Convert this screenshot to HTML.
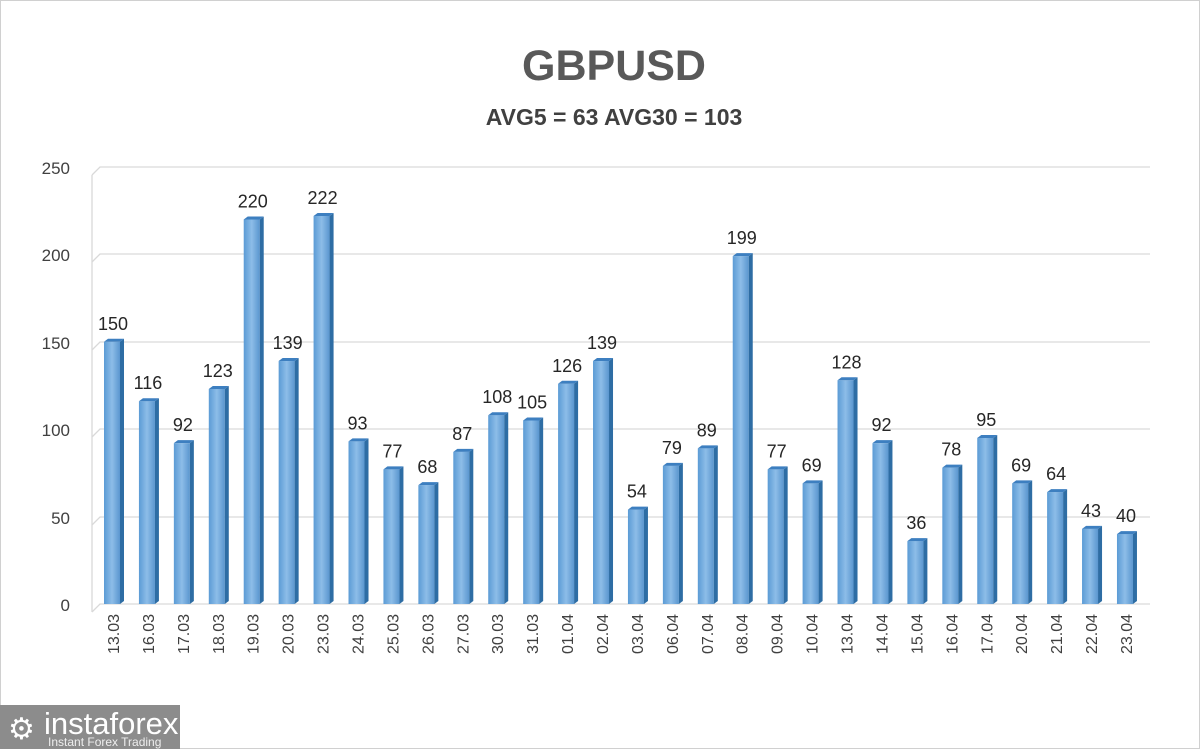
<!DOCTYPE html>
<html><head><meta charset="utf-8"><style>
html,body{margin:0;padding:0;background:#fff}
body{width:1200px;height:749px;overflow:hidden;font-family:"Liberation Sans",sans-serif}
</style></head><body>
<svg width="1200" height="749" xmlns="http://www.w3.org/2000/svg" font-family="Liberation Sans, sans-serif">
<defs>
<linearGradient id="g" x1="0" x2="1" y1="0" y2="0">
<stop offset="0" stop-color="#5b9bd5"/><stop offset="0.5" stop-color="#8dbde8"/><stop offset="1" stop-color="#5a96cf"/>
</linearGradient>
</defs>
<rect x="0.5" y="0.5" width="1199" height="748" fill="#fff" stroke="#d0d0d0"/>
<text x="614" y="80" text-anchor="middle" font-size="43" font-weight="bold" fill="#595959">GBPUSD</text>
<text x="614" y="125" text-anchor="middle" font-size="23" font-weight="bold" fill="#404040">AVG5 = 63 AVG30 = 103</text>
<g stroke="#d9d9d9" stroke-width="1.3" fill="none">
<path d="M92 612 L100 604 H1150"/>
<path d="M92 525 L100 517 H1150"/>
<path d="M92 437 L100 429 H1150"/>
<path d="M92 350 L100 342 H1150"/>
<path d="M92 262 L100 254 H1150"/>
<path d="M92 175 L100 167 H1150"/>
<path d="M92 175 V612"/>
</g>
<g font-size="17" fill="#404040" text-anchor="end">
<text x="70" y="611">0</text><text x="70" y="524">50</text><text x="70" y="436">100</text><text x="70" y="349">150</text><text x="70" y="261">200</text><text x="70" y="174">250</text>
</g>
<g id="bars"></g>
<rect x="0" y="705" width="180" height="44" fill="#8c8c8c"/>
<text x="8" y="739" font-size="30" fill="#fff">⚙</text>
<text x="44" y="734" font-size="31" fill="#fff">instaforex</text>
<text x="48" y="746" font-size="12" fill="#eee">Instant Forex Trading</text>
</svg>
<script>
var v=[150,116,92,123,220,139,222,93,77,68,87,108,105,126,139,54,79,89,199,77,69,128,92,36,78,95,69,64,43,40];
var d=["13.03","16.03","17.03","18.03","19.03","20.03","23.03","24.03","25.03","26.03","27.03","30.03","31.03","01.04","02.04","03.04","06.04","07.04","08.04","09.04","10.04","13.04","14.04","15.04","16.04","17.04","20.04","21.04","22.04","23.04"];
var s="";
for(var i=0;i<30;i++){
var x=104+34.93*i,h=v[i]*1.748,t=604-h,c=x+9;
s+='<rect x="'+x+'" y="'+t+'" width="16" height="'+h+'" fill="url(#g)"/>';
s+='<polygon points="'+(x+16)+','+t+' '+(x+20)+','+(t-3)+' '+(x+20)+','+(601)+' '+(x+16)+',604" fill="#2e6da4"/>';
s+='<polygon points="'+x+','+t+' '+(x+4)+','+(t-3)+' '+(x+20)+','+(t-3)+' '+(x+16)+','+t+'" fill="#3d7fc0"/>';
s+='<text x="'+c+'" y="'+(t-12)+'" text-anchor="middle" font-size="18" fill="#262626">'+v[i]+'</text>';
s+='<text transform="translate('+(c+6)+',614) rotate(-90)" text-anchor="end" font-size="16" fill="#404040">'+d[i]+'</text>';
}
document.getElementById("bars").innerHTML=s;
</script>
</body></html>
